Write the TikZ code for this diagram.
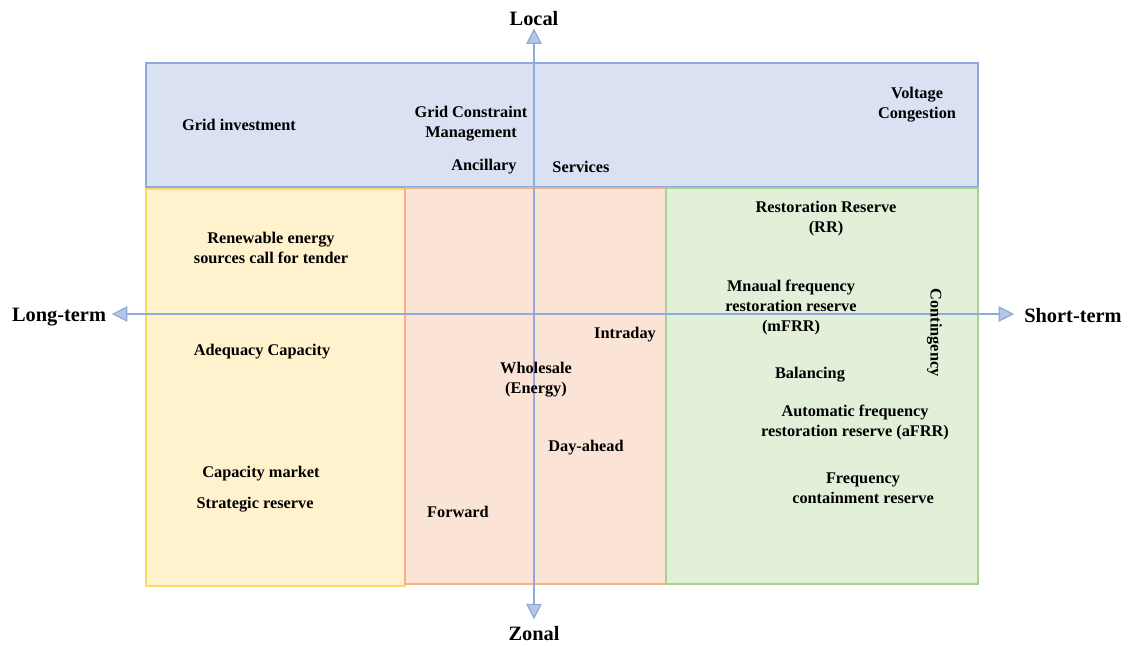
\documentclass[tikz,border=0pt]{standalone}
\usepackage{fontspec}
\setmainfont{Liberation Serif}
\usetikzlibrary{arrows.meta}
\definecolor{topfill}{HTML}{DAE1F3}
\definecolor{topline}{HTML}{8EA9DB}
\definecolor{ltfill}{HTML}{FFF2CC}
\definecolor{ltline}{HTML}{FFD966}
\definecolor{midfill}{HTML}{FBE3D5}
\definecolor{midline}{HTML}{F4B183}
\definecolor{stfill}{HTML}{E2EFD9}
\definecolor{stline}{HTML}{A9D18E}
\definecolor{axline}{HTML}{8FAADC}
\definecolor{axfill}{HTML}{B4C7E7}
\begin{document}
\begin{tikzpicture}[x=0.025cm, y=-0.025cm,
    box/.style={line width=1.3pt},
    lbl/.style={font=\fontsize{11.6}{14.2}\selectfont\bfseries, align=center, inner sep=1pt, yshift=-1.8pt},
    axlbl/.style={font=\fontsize{14.5}{17}\selectfont\bfseries, inner sep=1pt, yshift=-0.8pt},
    axis/.style={line width=1.3pt, draw=axline,
      {Triangle[length=11pt, width=11pt, fill=axfill, line width=0.9pt]}-{Triangle[length=11pt, width=11pt, fill=axfill, line width=0.9pt]}}]
    \useasboundingbox (0,0) rectangle (1131,645);
    \draw[box, fill=topfill, draw=topline](146,63) rectangle (978,187);
    \draw[box, fill=ltfill, draw=ltline](146,189) rectangle (405,586);
    \draw[box, fill=midfill, draw=midline](405,188) rectangle (666,584);
    \draw[box, fill=stfill, draw=stline](666,188) rectangle (978,584);
    \node[axlbl] (local) at (534,17) {Local};
    \node[axlbl] (zonal) at (534,632) {Zonal};
    \node[axlbl] (longterm) at (59,316) {Long-term};
    \node[axlbl] (shortterm) at (1073,314) {Short-term};
    \draw[axis, shorten <=3pt, shorten >=6pt](longterm.east |- 0,314)--(shortterm.west |- 0,314);
    \draw[axis, shorten <=1pt, shorten >=3.5pt](local.south)--(zonal.north);
    \node[lbl] (gridinv) at (239,122) {Grid investment};
    \node[lbl] (gridcons) at (471,121) {Grid Constraint\\Management};
    \node[lbl] (ancillary) at (484,164) {Ancillary};
    \node[lbl] (services) at (581,164) {Services};
    \node[lbl] (voltage) at (917,102) {Voltage\\Congestion};
    \node[lbl] (renewable) at (271,245) {Renewable energy\\sources call for tender};
    \node[lbl] (adequacy) at (262,349) {Adequacy Capacity};
    \node[lbl] (capmarket) at (261,471) {Capacity market};
    \node[lbl] (strategic) at (255,502) {Strategic reserve};
    \node[lbl] (wholesale) at (536,377) {Wholesale\\(Energy)};
    \node[lbl] (intraday) at (625,332) {Intraday};
    \node[lbl] (dayahead) at (586,445) {Day-ahead};
    \node[lbl] (forward) at (458,509) {Forward};
    \node[lbl] (rr) at (826,216) {Restoration Reserve\\(RR)};
    \node[lbl] (mfrr) at (791,305) {Mnaual frequency\\restoration reserve\\(mFRR)};
    \node[lbl, rotate=-90, yshift=1.8pt] (contingency) at (932,330) {Contingency};
    \node[lbl] (balancing) at (810,372) {Balancing};
    \node[lbl] (afrr) at (855,420) {Automatic frequency\\restoration reserve (aFRR)};
    \node[lbl] (fcr) at (863,486) {Frequency\\containment reserve};
\end{tikzpicture}
\end{document}
